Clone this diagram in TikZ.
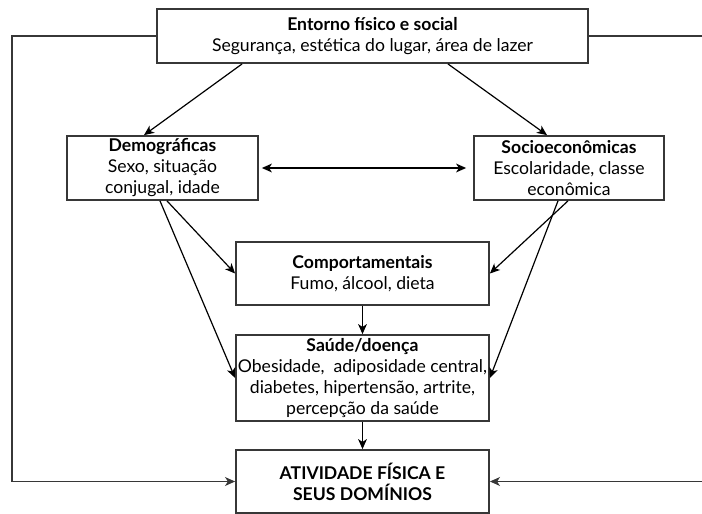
\documentclass[tikz,border=0pt]{standalone}
\usepackage{fontspec}
\setmainfont{Lato}
\usetikzlibrary{arrows.meta,positioning}
\definecolor{boxgray}{RGB}{55,55,55}

\begin{document}
\begin{tikzpicture}[x=0.5pt,y=-0.5pt,
  >={Stealth[length=5pt,width=4.4pt,inset=1.4pt]},
  box/.style={draw=boxgray,line width=0.9pt,align=center,inner sep=0pt,
    font=\fontsize{8.8}{10.5}\selectfont},
  arr/.style={->,line width=0.6pt},
  loopline/.style={->,draw=boxgray,line width=0.9pt}]
\useasboundingbox (0,0) rectangle (702,514);
% Boxes
\node[box,minimum width=215.5pt,minimum height=27pt] (entorno) at (372.5,36)
  {\textbf{Entorno físico e social}\\Segurança, estética do lugar, área de lazer};
\node[box,minimum width=95.5pt,minimum height=32pt] (demog) at (162.5,168)
  {\textbf{Demográficas}\\Sexo, situação\\conjugal, idade};
\node[box,minimum width=95pt,minimum height=32pt] (socio) at (569,168)
  {\textbf{Socioeconômicas}\\Escolaridade, classe\\econômica};
\node[box,minimum width=126.5pt,minimum height=31.5pt] (comport) at (362.5,273.5)
  {\textbf{Comportamentais}\\Fumo, álcool, dieta};
\node[box,minimum width=126.5pt,minimum height=43pt] (saude) at (362.5,378)
  {\textbf{Saúde/doença}\\Obesidade,\ \ adiposidade central,\\diabetes, hipertensão, artrite,\\percepção da saúde};
\node[box,minimum width=126.5pt,minimum height=31.5pt] (ativ) at (362.5,481.5)
  {\textbf{ATIVIDADE FÍSICA E}\\\textbf{SEUS DOMÍNIOS}};
% Arrows
\draw[arr] ([xshift=43pt]entorno.south west) -- ([xshift=-9.25pt]demog.north);
\draw[arr] ([xshift=-70.5pt]entorno.south east) -- ([xshift=-11pt]socio.north);
\draw[arr,<->] ([xshift=1.5pt]demog.east) -- ([xshift=-3.5pt]socio.west);
\draw[arr] ([xshift=2.25pt]demog.south) -- (comport.west);
\draw[arr] ([xshift=-1.25pt]demog.south) -- (saude.west);
\draw[arr] ([xshift=-0.5pt]socio.south) -- (comport.east);
\draw[arr] ([xshift=-5.5pt]socio.south) -- (saude.east);
\draw[arr] (comport.south) -- (saude.north);
\draw[arr] (saude.south) -- (ativ.north);
% Feedback lines round the sides
\coordinate (lside) at (12,0);
\coordinate (rside) at (705,0);
\draw[loopline] (entorno.west) -- (entorno.west -| lside) |- (ativ.west);
\draw[loopline] (entorno.east) -- (entorno.east -| rside) |- (ativ.east);
\end{tikzpicture}
\end{document}
